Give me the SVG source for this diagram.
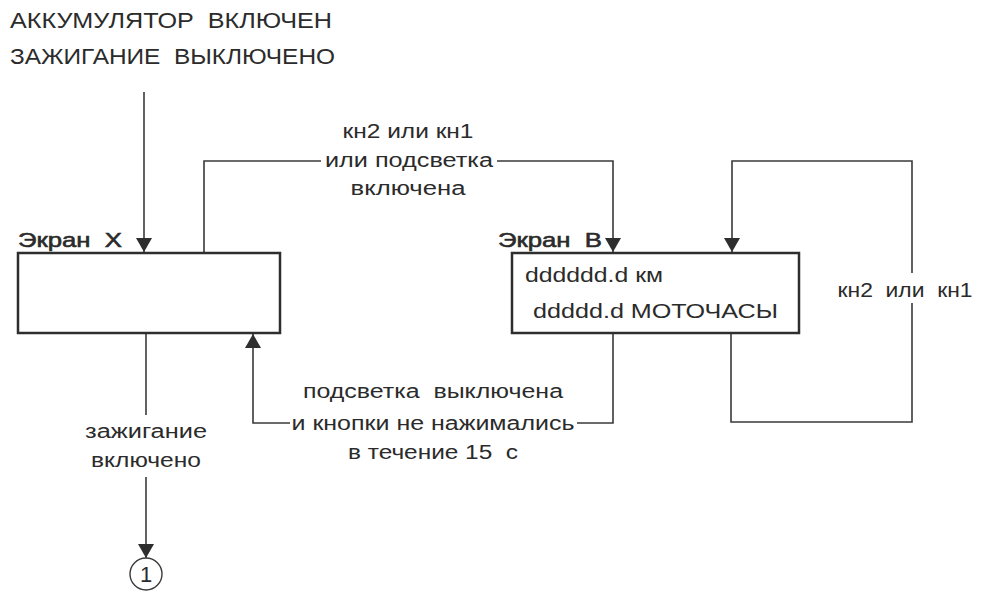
<svg xmlns="http://www.w3.org/2000/svg" width="988" height="592" viewBox="0 0 988 592">
<style>
text{font-family:"Liberation Sans",Arial,sans-serif;font-size:20px;fill:#2b2b2b;white-space:pre}
.t{font-size:22px}
.h{font-size:21px;stroke:#2b2b2b;stroke-width:0.6}
.c{text-anchor:middle}
.box{fill:#fff;stroke:#2e2e2e;stroke-width:2.5}
.ln{fill:none;stroke:#3a3a3a;stroke-width:1.6}
</style>
<defs>
<marker id="ah" viewBox="0 0 14 16" refX="14" refY="8" markerWidth="14" markerHeight="16" markerUnits="userSpaceOnUse" orient="auto">
<path d="M0,0 L14,8 L0,16 z" fill="#2e2e2e"/>
</marker>
</defs>
<g id="title">
<text class="t" x="10" y="28" textLength="322" lengthAdjust="spacingAndGlyphs" xml:space="preserve">АККУМУЛЯТОР  ВКЛЮЧЕН</text>
<text class="t" x="10" y="64" textLength="325" lengthAdjust="spacingAndGlyphs" xml:space="preserve">ЗАЖИГАНИЕ  ВЫКЛЮЧЕНО</text>
</g>
<g id="connectors">
<path class="ln" d="M144,92 V252" marker-end="url(#ah)"/>
<path class="ln" d="M204,253 V161 H321"/>
<path class="ln" d="M497,161 H613 V252" marker-end="url(#ah)"/>
<path class="ln" d="M731,333 V422 H912 V303"/>
<path class="ln" d="M912,273 V161 H732 V252" marker-end="url(#ah)"/>
<path class="ln" d="M613,333 V423 H577"/>
<path class="ln" d="M290,423 H253 V334" marker-end="url(#ah)"/>
<path class="ln" d="M146,333 V415"/>
<path class="ln" d="M146,477 V558" marker-end="url(#ah)"/>
<text class="c" x="408" y="138" textLength="131" lengthAdjust="spacingAndGlyphs">кн2 или кн1</text>
<text class="c" x="409" y="167" textLength="168" lengthAdjust="spacingAndGlyphs">или подсветка</text>
<text class="c" x="408" y="195" textLength="115" lengthAdjust="spacingAndGlyphs">включена</text>
<text class="c" x="905" y="297" textLength="135" lengthAdjust="spacingAndGlyphs" xml:space="preserve">кн2  или  кн1</text>
<text class="c" x="433" y="398" textLength="260" lengthAdjust="spacingAndGlyphs" xml:space="preserve">подсветка  выключена</text>
<text class="c" x="433" y="430" textLength="283" lengthAdjust="spacingAndGlyphs">и кнопки не нажимались</text>
<text class="c" x="433" y="459" textLength="170" lengthAdjust="spacingAndGlyphs" xml:space="preserve">в течение 15  с</text>
<text class="c" x="146" y="438" textLength="122" lengthAdjust="spacingAndGlyphs">зажигание</text>
<text class="c" x="146" y="467" textLength="110" lengthAdjust="spacingAndGlyphs">включено</text>
</g>
<g id="screenX">
<rect class="box" x="18" y="253" width="262" height="80"/>
<text class="h" x="18" y="247" textLength="104" lengthAdjust="spacingAndGlyphs" xml:space="preserve">Экран  X</text>
</g>
<g id="screenB">
<rect class="box" x="512" y="253" width="287" height="80"/>
<text class="h" x="498" y="247" textLength="104" lengthAdjust="spacingAndGlyphs" xml:space="preserve">Экран  В</text>
<text x="525" y="282" textLength="138" lengthAdjust="spacingAndGlyphs">dddddd.d км</text>
<text x="533" y="318" textLength="245" lengthAdjust="spacingAndGlyphs">ddddd.d МОТОЧАСЫ</text>
</g>
<g id="connector1">
<circle cx="146" cy="574" r="16" fill="#fff" stroke="#3a3a3a" stroke-width="1.4"/>
<text class="c" x="146" y="582" style="font-size:22px">1</text>
</g>
</svg>
